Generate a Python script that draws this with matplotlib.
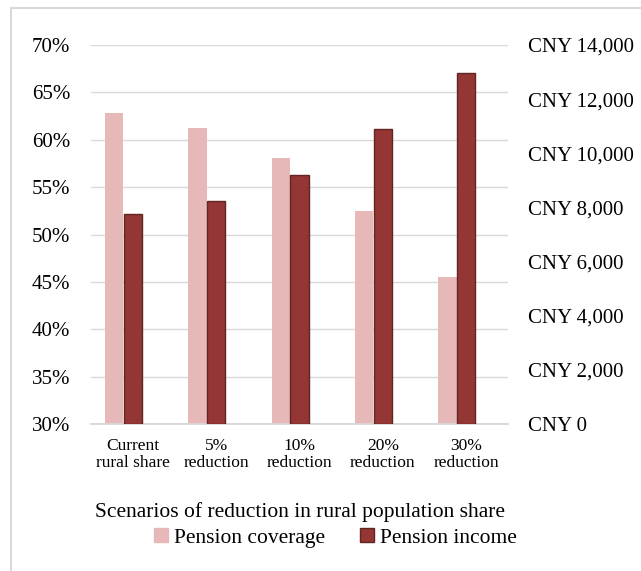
import numpy as np
import matplotlib
matplotlib.use("Agg")
import matplotlib.pyplot as plt
from matplotlib.patches import Rectangle
from matplotlib.ticker import FuncFormatter

plt.rcParams['font.family'] = ['Liberation Serif', 'DejaVu Serif']

categories = ["Current\nrural share", "5%\nreduction", "10%\nreduction",
              "20%\nreduction", "30%\nreduction"]
coverage = [62.8, 61.2, 58.1, 52.5, 45.5]          # percent, left axis
income = [7750, 8250, 9210, 10900, 12980]           # CNY, right axis
pct_ticks = [30, 35, 40, 45, 50, 55, 60, 65, 70]
cny_ticks = [0, 2000, 4000, 6000, 8000, 10000, 12000, 14000]

pink = "#E6B9B8"
dark = "#943634"

fig = plt.figure(figsize=(6.41, 5.71), dpi=100)
ax = fig.add_axes([0.142, 0.2574, 0.6505, 0.6638])
ax2 = ax.twinx()

x = np.arange(len(categories))
w = 0.22
ax.bar(x - 0.225, coverage, width=w, color=pink, zorder=3)
ax2.bar(x, income, width=w, color=dark, edgecolor="#632523", linewidth=1, zorder=3)

ax.set_xlim(-0.5, len(categories) - 0.5)
ax.set_ylim(30, 70)
ax2.set_ylim(0, 14000)
ax.set_yticks(pct_ticks)
ax.yaxis.set_major_formatter(FuncFormatter(lambda v, p: f"{v:.0f}%"))
ax2.set_yticks(cny_ticks)
ax2.yaxis.set_major_formatter(FuncFormatter(lambda v, p: f"CNY {v:,.0f}"))

ax.grid(axis="y", color="#D9D9D9", linewidth=1, zorder=0)
ax.set_axisbelow(True)
for a in (ax, ax2):
    for s in ("top", "left", "right"):
        a.spines[s].set_visible(False)
    a.spines["bottom"].set_color("#D9D9D9")
    a.spines["bottom"].set_linewidth(1.2)

ax.set_xticks(x)
ax.set_xticklabels(categories, fontsize=12.5, linespacing=1.1)
ax.tick_params(axis="x", length=0, pad=10)
ax.tick_params(axis="y", length=0, pad=15, labelsize=15)
ax2.tick_params(axis="y", length=0, pad=14.5, labelsize=15)

ax.set_xlabel("Scenarios of reduction in rural population share", fontsize=15.5,
              labelpad=22)

handles = [Rectangle((0, 0), 1, 1, color=pink),
           Rectangle((0, 0), 1, 1, facecolor=dark, edgecolor="#632523")]
fig.legend(handles, ["Pension coverage", "Pension income"], loc="center",
           bbox_to_anchor=(0.523, 0.058), ncol=2, frameon=False, fontsize=15.5,
           handlelength=0.65, handleheight=0.65, handletextpad=0.3,
           columnspacing=1.6)

# chart area border (left and top visible)
fig.add_artist(Rectangle((11 / 641, -0.1), 1.2, 1 - 8 / 571 + 0.1,
                         transform=fig.transFigure, fill=False,
                         edgecolor="#D9D9D9", linewidth=1.5))

fig.savefig("out.png", dpi=100)
